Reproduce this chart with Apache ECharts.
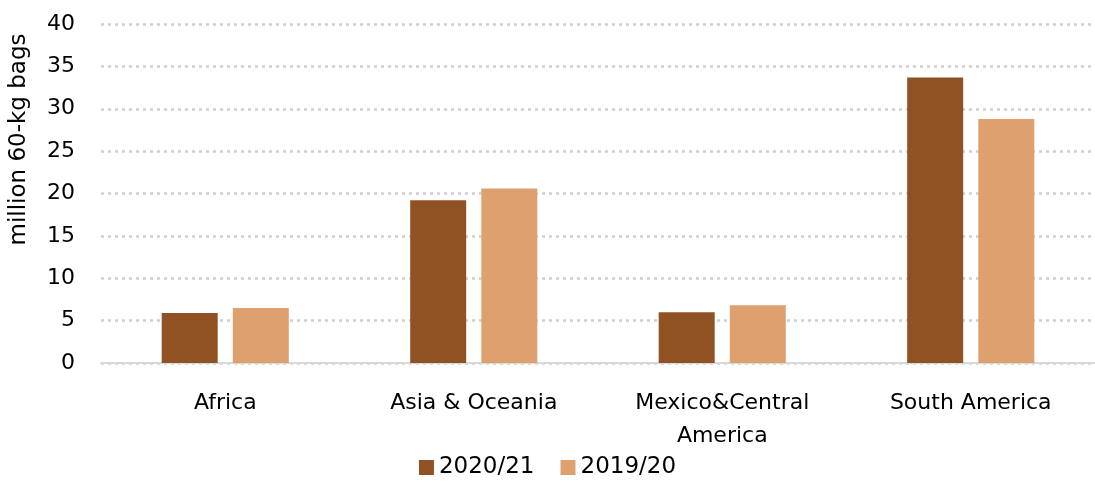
<!DOCTYPE html>
<html><head><meta charset="utf-8">
<script src="https://cdn.jsdelivr.net/npm/echarts@6/dist/echarts.min.js"></script>
<style>html,body{margin:0;padding:0;background:#fff}#c{width:1095px;height:504px}</style>
</head><body><div id="c"></div>
<script>
var categories = ['Africa', 'Asia & Oceania', 'Mexico&Central\nAmerica', 'South America'];
var s2021 = [5.9, 19.2, 6.0, 33.7];
var s1920 = [6.5, 20.6, 6.8, 28.8];
var seriesNames = ['2020/21', '2019/20'];
var chart = echarts.init(document.getElementById('c'));
var font = 'DejaVu Sans';
chart.setOption({
  animation: false,
  textStyle: {fontFamily: font},
  grid: {left: 100, right: -9, top: 24, bottom: 141},
  legend: {
    top: 451, left: 'center', itemWidth: 15, itemHeight: 15, itemGap: 26, itemTextGap: 7,
    icon: 'rect',
    textStyle: {fontSize: 23, color: '#000', fontFamily: font},
    data: seriesNames
  },
  xAxis: {
    type: 'category', data: categories,
    axisLine: {lineStyle: {color: '#d9d9d9', width: 2}},
    axisTick: {show: false},
    axisLabel: {fontSize: 22, color: '#000', margin: 24, lineHeight: 33, fontFamily: font}
  },
  yAxis: {
    type: 'value', min: 0, max: 40, interval: 5,
    name: 'million 60-kg bags', nameLocation: 'middle', nameGap: 70, nameRotate: 90,
    nameTextStyle: {fontSize: 23, color: '#000', fontFamily: font, padding: [0, 0, 0, 108]},
    axisLine: {show: false}, axisTick: {show: false},
    axisLabel: {fontSize: 22, color: '#000', margin: 26, fontFamily: font},
    splitLine: {lineStyle: {color: '#d0d0d0', type: [3, 4], width: 2.5}}
  },
  series: [
    {name: seriesNames[0], type: 'bar', data: s2021, barWidth: 56, barGap: '27%',
     itemStyle: {color: '#915223'}},
    {name: seriesNames[1], type: 'bar', data: s1920, barWidth: 56,
     itemStyle: {color: '#dfa070'}}
  ]
});
</script></body></html>
